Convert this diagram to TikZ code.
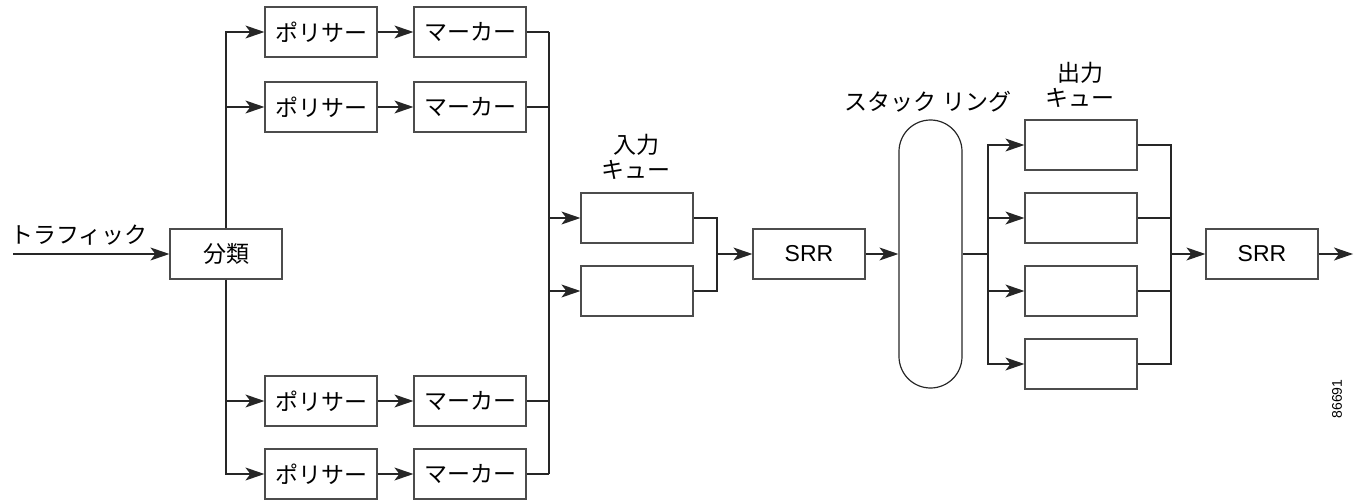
\documentclass[tikz,border=0pt]{standalone}
\usepackage{fontspec}
\setmainfont{Liberation Sans}
\newfontfamily\jpfont{Noto Sans CJK JP}
\usepackage{tikz}
\usetikzlibrary{arrows.meta}
\usetikzlibrary{calc}

\begin{document}
\begin{tikzpicture}[x=1pt,y=-1pt,line width=1.2pt,draw=black!85,
		>={Stealth[length=19pt,width=13pt,inset=5pt]},
		box/.style={draw=black!70,minimum width=112pt,minimum height=50pt,inner sep=0pt,font=\jpfont\fontsize{23}{25}\selectfont},
		srrbox/.style={box,font=\fontsize{23}{26}\selectfont},
		lbl/.style={inner sep=0pt,align=center,font=\jpfont\fontsize{23}{25}\selectfont}]
			\useasboundingbox(0,0)rectangle(1355,500);
			% left part
			\node[lbl](traffic)at(79,235){トラフィック};
			\coordinate(tin)at(13,254);
			\node[box](cls)at(226,254){分類};
			\node[box](p1)at(321,32){ポリサー};
			\node[box](p2)at(321,107){ポリサー};
			\node[box](p3)at(321,401){ポリサー};
			\node[box](p4)at(321,474){ポリサー};
			\node[box](m1)at(470,32){マーカー};
			\node[box](m2)at(470,107){マーカー};
			\node[box](m3)at(470,401){マーカー};
			\node[box](m4)at(470,474){マーカー};
			\coordinate(b1)at(549,32);
			\coordinate(b4)at(549,474);
			% input queues
			\node[lbl](inlbl)at(636,157){入力\\キュー};
			\node[box](iq1)at(637,218){};
			\node[box](iq2)at(637,291){};
			\coordinate(mg)at(717,254);
			\node[srrbox](srr1)at(809,254){SRR};
			% stack ring
			\node[lbl](ringlbl)at(928,102){スタック リング};
			\node[draw=black!85,minimum width=63pt,minimum height=268pt,rounded corners=31.5pt](ring)at(930.5,254){};
			\coordinate(ob)at(988,254);
			% output queues
			\node[lbl](outlbl)at(1080,85){出力\\キュー};
			\node[box](oq1)at(1081,145){};
			\node[box](oq2)at(1081,218){};
			\node[box](oq3)at(1081,291){};
			\node[box](oq4)at(1081,364){};
			\coordinate(om)at(1171,254);
			\node[srrbox](srr2)at(1262,254){SRR};
			\coordinate(out)at(1353,254);
			\node[inner sep=0pt,rotate=90,font=\fontsize{14}{16}\selectfont](fig)at(1337,399){86691};
			% connectors
			\draw[->](tin)--(cls);
			\draw[->](cls.north)|-(p1.west);
			\draw[->](cls.north)|-(p2.west);
			\draw[->](cls.south)|-(p3.west);
			\draw[->](cls.south)|-(p4.west);
			\draw[->](p1)--(m1);
			\draw[->](p2)--(m2);
			\draw[->](p3)--(m3);
			\draw[->](p4)--(m4);
			\draw(m1.east)--(m1.east-|b1);
			\draw(m2.east)--(m2.east-|b1);
			\draw(m3.east)--(m3.east-|b1);
			\draw(m4.east)--(m4.east-|b1);
			\draw(b1)--(b4);
			\draw[->](iq1.west-|b1)--(iq1);
			\draw[->](iq2.west-|b1)--(iq2);
			\draw(iq1.east)-|(mg);
			\draw(iq2.east)-|(mg);
			\draw[->](mg)--(srr1);
			\draw[->](srr1)--(ring);
			\draw(ring)--(ob);
			\draw[->](ob)|-(oq1.west);
			\draw[->](ob)|-(oq2.west);
			\draw[->](ob)|-(oq3.west);
			\draw[->](ob)|-(oq4.west);
			\draw(oq1.east)-|(om);
			\draw(oq2.east)-|(om);
			\draw(oq3.east)-|(om);
			\draw(oq4.east)-|(om);
			\draw[->](om)--(srr2);
			\draw[->](srr2)--(out);
		\end{tikzpicture}
\end{document}
